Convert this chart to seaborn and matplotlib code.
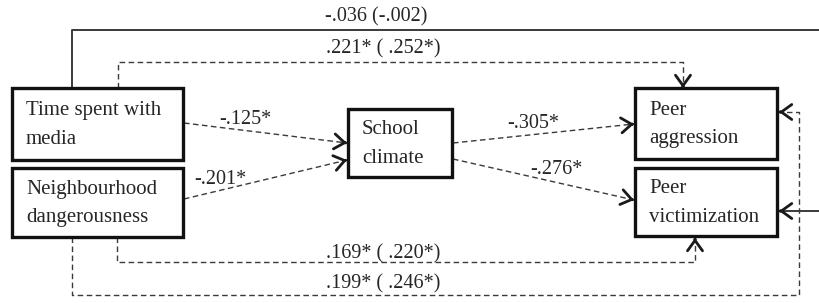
import numpy as np
import matplotlib.pyplot as plt
import seaborn as sns

# variables in the path model
box_names = ["time", "neigh", "school", "agg", "vict"]
box_labels = ["Time spent with\nmedia", "Neighbourhood\ndangerousness",
              "School\nclimate", "Peer\naggression", "Peer\nvictimization"]

# path coefficients (direct effect, total effect in brackets)
path_labels = ["-.036 (-.002)", ".221* ( .252*)", "-.125*", "-.201*",
               "-.305*", "-.276*", ".169* ( .220*)", ".199* ( .246*)"]
path_dashed = [False, True, True, True, True, True, True, True]

# layout in pixel units (x right, y down)
box_xy = {
    "time": (12, 88, 183, 160),
    "neigh": (12, 168, 183, 237),
    "school": (348, 109, 452, 177),
    "agg": (635, 88, 777, 159),
    "vict": (635, 168, 777, 236),
}
path_pts = [
    [(72, 88), (72, 30), (823, 30), (823, 211), (779, 211)],
    [(118, 88), (118, 62), (683, 62), (683, 88)],
    [(184, 123), (347, 143)],
    [(184, 199), (347, 160)],
    [(453, 143), (634, 124)],
    [(453, 159), (634, 200)],
    [(117, 237), (117, 262), (695, 262), (695, 238)],
    [(72, 237), (72, 295), (799, 295), (799, 112), (779, 112)],
]
label_xy = [(376, 17), (383, 49), (245, 120), (220, 179),
            (533, 123), (556, 169), (383, 254), (383, 284)]

sns.set_theme(style="white")
plt.rcParams['font.family'] = ['Liberation Serif', 'DejaVu Serif']

fig = plt.figure(figsize=(8.2, 3.03), dpi=100)
ax = fig.add_axes([0, 0, 1, 1])

line_col = "#3a3a3a"
text_col = "#262626"

for name, lab in zip(box_names, box_labels):
    x0, y0, x1, y1 = box_xy[name]
    ax.add_patch(plt.Rectangle((x0, y0), x1 - x0, y1 - y0, fill=False,
                               edgecolor="#111111", lw=2.4, zorder=3))
    ax.text(x0 + 14, (y0 + y1) / 2 + 1, lab, ha="left", va="center",
            fontsize=15, color=text_col, linespacing=1.65, zorder=4)

for pts, dashed, lab, lxy in zip(path_pts, path_dashed, path_labels, label_xy):
    xs = [p[0] for p in pts]
    ys = [p[1] for p in pts]
    sns.lineplot(x=xs, y=ys, sort=False, estimator=None, ax=ax,
                 color=line_col, lw=1.0 if dashed else 1.4,
                 linestyle=(0, (4, 2.5)) if dashed else "-", zorder=2)
    # open arrow head at the end of each path
    tip = np.array(pts[-1], dtype=float)
    d = tip - np.array(pts[-2], dtype=float)
    d = d / np.hypot(*d)
    ax.annotate("", xy=tip, xytext=tip - 1.5 * d,
                arrowprops=dict(arrowstyle="->,head_length=0.5,head_width=0.36",
                                color="#1a1a1a", lw=2.0, shrinkA=0, shrinkB=0,
                                mutation_scale=15),
                zorder=5)
    ax.text(lxy[0], lxy[1], lab, ha="center", va="center", fontsize=14.5,
            color=text_col, zorder=4)

ax.set_xlim(0, 820)
ax.set_ylim(303, 0)
ax.axis("off")
fig.savefig("out.png", dpi=100, facecolor="white")
